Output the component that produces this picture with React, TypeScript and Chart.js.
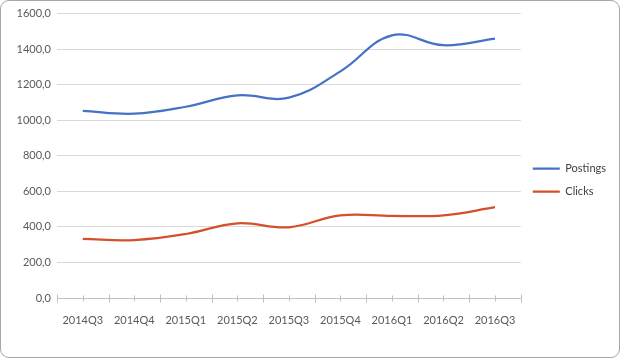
import React, { useEffect, useRef } from "react";
import { Chart, registerables } from "chart.js";

Chart.register(...registerables);

const categories = ["2014Q3", "2014Q4", "2015Q1", "2015Q2", "2015Q3", "2015Q4", "2016Q1", "2016Q2", "2016Q3"];
const postings = [1053, 1037, 1076, 1140, 1127, 1275, 1478, 1422, 1459];
const clicks = [332, 326, 360, 420, 398, 465, 462, 465, 511];
const yTicks = [0, 200, 400, 600, 800, 1000, 1200, 1400, 1600];

const FONT = "Lato, 'Open Sans', sans-serif";

const crossTicks = {
  id: "crossTicks",
  afterDatasetsDraw(chart: any) {
    const x = chart.scales.x;
    const y = chart.scales.y;
    const ctx = chart.ctx;
    const y0 = Math.round(y.getPixelForValue(0)) + 0.5;
    const n = categories.length;
    ctx.save();
    ctx.strokeStyle = "#bfbfbf";
    ctx.lineWidth = 1;
    ctx.beginPath();
    ctx.moveTo(x.left, y0);
    ctx.lineTo(x.right, y0);
    for (let i = 0; i <= n; i++) {
      const px = Math.round(x.left + ((x.right - x.left) * i) / n) + 0.5;
      ctx.moveTo(px, y0 - 4);
      ctx.lineTo(px, y0 + 4);
    }
    for (let i = 0; i < n; i++) {
      const px = Math.round(x.getPixelForValue(i)) + 0.5;
      ctx.moveTo(px, y0 - 3);
      ctx.lineTo(px, y0 + 3);
    }
    ctx.stroke();
    ctx.restore();
  },
};

export default function App() {
  const ref = useRef<HTMLCanvasElement>(null);
  useEffect(() => {
    document.body.style.margin = "0";
    const chart = new Chart(ref.current!, {
      type: "line",
      data: {
        labels: categories,
        datasets: [
          { label: "Postings", data: postings, borderColor: "#4472C4", backgroundColor: "#4472C4", borderWidth: 2.25, pointRadius: 0, tension: 0.4 },
          { label: "Clicks", data: clicks, borderColor: "#D4502A", backgroundColor: "#D4502A", borderWidth: 2.25, pointRadius: 0, tension: 0.4 },
        ],
      },
      options: {
        animation: false,
        responsive: false,
        layout: { padding: { top: 10, right: 3, bottom: 8, left: 6 } },
        plugins: {
          tooltip: { enabled: false },
          legend: {
            position: "right",
            labels: {
              usePointStyle: true,
              pointStyle: "line",
              pointStyleWidth: 27,
              padding: 12,
              color: "#404040",
              font: { family: FONT, size: 11 },
            },
          },
        },
        scales: {
          x: {
            offset: true,
            grid: { display: false },
            border: { display: false },
            ticks: { color: "#595959", font: { family: FONT, size: 11 }, padding: 8, maxRotation: 0 },
            afterFit: (s: any) => { s.height = 51; },
          },
          y: {
            min: 0,
            max: 1600,
            afterBuildTicks: (s: any) => { s.ticks = yTicks.map((v) => ({ value: v })); },
            afterFit: (s: any) => { s.width = 50; },
            grid: { color: (c: any) => (c.tick && c.tick.value === 0 ? "rgba(0,0,0,0)" : "#d9d9d9"), drawTicks: false },
            border: { display: false },
            ticks: {
              color: "#595959",
              font: { family: FONT, size: 11 },
              padding: 6,
              callback: (v: any) => Number(v).toFixed(1).replace(".", ","),
            },
          },
        },
      },
      plugins: [crossTicks],
    });
    return () => chart.destroy();
  }, []);
  return (
    <div style={{ position: "absolute", left: 0, top: 0, width: 620, height: 358, boxSizing: "border-box", border: "1px solid #a6a6a6", borderRadius: 9, background: "#fff", overflow: "hidden" }}>
      <canvas ref={ref} width={618} height={356} style={{ display: "block" }} />
    </div>
  );
}
